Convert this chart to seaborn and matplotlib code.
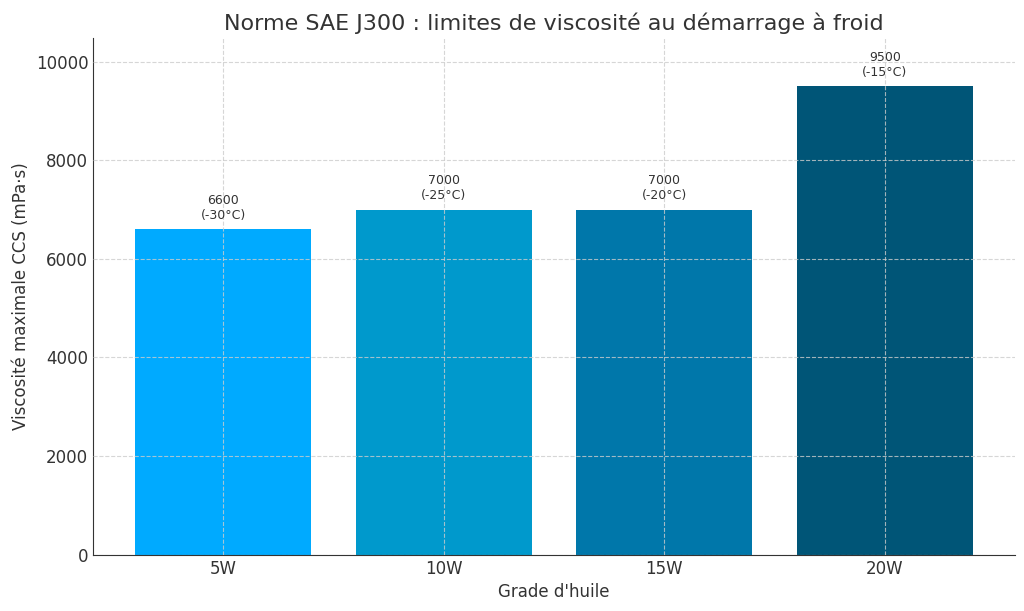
import matplotlib
matplotlib.use("Agg")
import matplotlib.pyplot as plt
import seaborn as sns
import pandas as pd

grades = ["5W", "10W", "15W", "20W"]
viscosity = [6600, 7000, 7000, 9500]
temps = ["-30°C", "-25°C", "-20°C", "-15°C"]
colors = ["#00AAFF", "#0099CC", "#0077AA", "#005577"]

df = pd.DataFrame({"grade": grades, "visc": viscosity})

sns.set_style("white")
plt.rcParams["font.family"] = ["DejaVu Sans"]
plt.rcParams["text.color"] = "#333333"
plt.rcParams["axes.labelcolor"] = "#333333"
plt.rcParams["xtick.color"] = "#333333"
plt.rcParams["ytick.color"] = "#333333"

fig, ax = plt.subplots(figsize=(10.24, 6.11), dpi=100)
sns.barplot(data=df, x="grade", y="visc", hue="grade", palette=colors,
            width=0.8, legend=False, ax=ax, edgecolor="none", saturation=1)

for i, (v, t) in enumerate(zip(viscosity, temps)):
    ax.text(i, v + 150, f"{v}\n({t})", ha="center", va="bottom", fontsize=9, color="#333333")

ax.set_xlim(-0.59, 3.59)
ax.set_ylim(0, 10480)
ax.set_title("Norme SAE J300 : limites de viscosité au démarrage à froid", fontsize=16, color="#333333")
ax.set_xlabel("Grade d'huile", fontsize=12)
ax.set_ylabel("Viscosité maximale CCS (mPa·s)", fontsize=12)
ax.tick_params(axis="both", labelsize=12, direction="in", length=5)
ax.set_axisbelow(False)
ax.grid(True, linestyle="--", color="#cccccc", linewidth=0.8, alpha=0.8)
for s in ["top", "right"]:
    ax.spines[s].set_visible(False)
for s in ["left", "bottom"]:
    ax.spines[s].set_color("#333333")

fig.subplots_adjust(left=0.091, right=0.991, top=0.938, bottom=0.092)
fig.savefig("out.png", dpi=100)
